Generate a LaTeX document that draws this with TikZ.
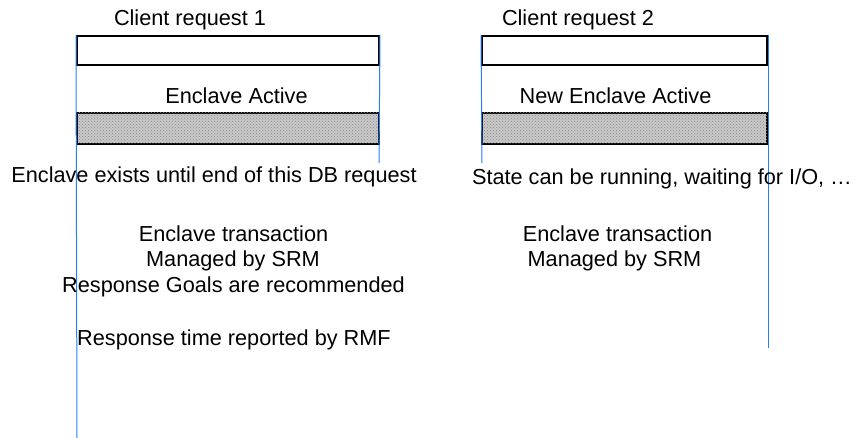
\documentclass[tikz,border=0pt]{standalone}
\usepackage{fontspec}
\setmainfont{Liberation Sans}
\usetikzlibrary{patterns}
\definecolor{lifeline}{RGB}{40,125,255}
\definecolor{stipple}{RGB}{200,200,200}
\begin{document}
\begin{tikzpicture}[x=1pt,y=-1pt,
  reqbox/.style={draw=black,line width=2pt,fill=white,rectangle,inner sep=0pt,
    minimum width=#1,minimum height=29pt},
  actbox/.style={draw=black,line width=2pt,fill=stipple,
    postaction={pattern=crosshatch dots,pattern color=black!45},
    rectangle,inner sep=0pt,minimum width=#1,minimum height=31pt},
  label/.style={anchor=base,inner sep=0pt,font=\fontsize{21.7}{26}\selectfont},
  life/.style={draw=lifeline,line width=1pt}]
\useasboundingbox (0,0) rectangle (855,438);

% free ends of the request timelines
\coordinate (end1a) at (77,438);
\coordinate (end1b) at (379,163);
\coordinate (end2a) at (482,163);
\coordinate (end2b) at (768,348);

% request and enclave boxes
\node[reqbox=302pt] (req1) at (228,50.5) {};
\node[actbox=302pt] (act1) at (228,128.5) {};
\node[reqbox=285pt] (req2) at (624.5,50.5) {};
\node[actbox=285pt] (act2) at (624.5,128.5) {};

\draw[life] (req1.north west) -- (end1a);
\draw[life] (req1.north east) -- (end1b);
\draw[life] (req2.north west) -- (end2a);
\draw[life] (req2.north east) -- (end2b);

% captions
\node[label] (t1) at (190,26) {Client request 1};
\node[label] (t2) at (236.5,104) {Enclave Active};
\node[label] (t3) at (578,26) {Client request 2};
\node[label] (t4) at (615.5,104) {New Enclave Active};
\node[label] (t5) at (214,183) {Enclave exists until end of this DB request};
\node[label] (t6) at (662,185) {State can be running, waiting for I/O, …};
\node[label] (t7) at (233.5,242) {Enclave transaction};
\node[label] (t8) at (233,267) {Managed by SRM};
\node[label] (t9) at (233.5,293) {Response Goals are recommended};
\node[label] (t10) at (234,346) {Response time reported by RMF};
\node[label] (t11) at (617.5,242) {Enclave transaction};
\node[label] (t12) at (614.5,267) {Managed by SRM};
\end{tikzpicture}
\end{document}
